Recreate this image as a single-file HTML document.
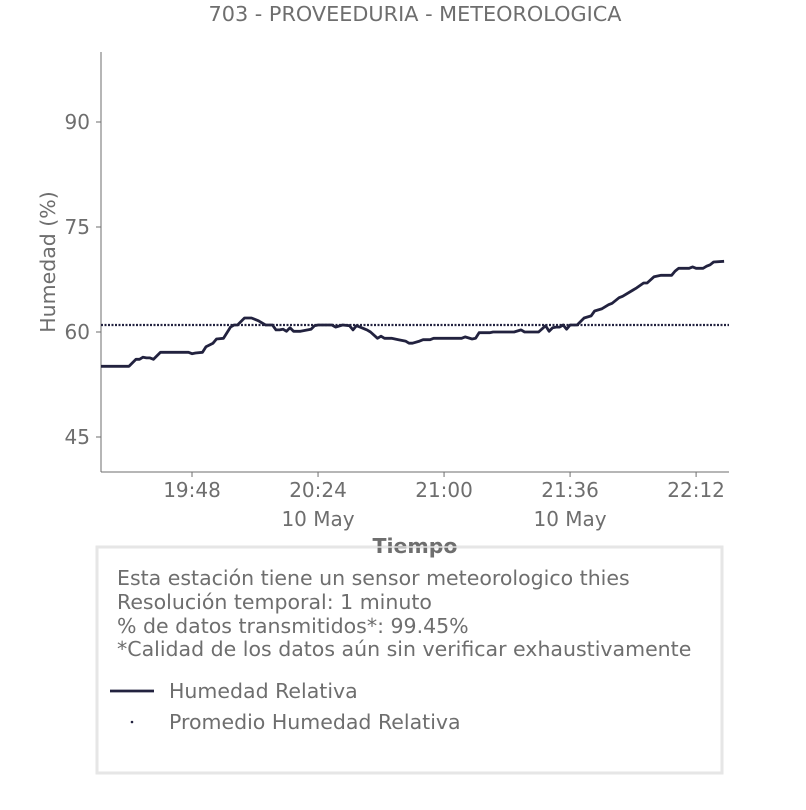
<!DOCTYPE html>
<html><head><meta charset="utf-8"><style>
body{margin:0;background:#fff;font-family:"DejaVu Sans","Liberation Sans",sans-serif;}
svg text{font-family:"DejaVu Sans","Liberation Sans",sans-serif;fill:#6e6e6e;}
</style></head><body>
<svg width="806" height="806" viewBox="0 0 806 806">
<text x="415" y="21" font-size="20.8" text-anchor="middle">703 - PROVEEDURIA - METEOROLOGICA</text>
<g id="axes"></g>
<g id="marks"></g>
<text transform="translate(55,262) rotate(-90)" font-size="20.5" text-anchor="middle">Humedad (%)</text>
<rect x="97" y="547" width="625" height="226" fill="#fff" stroke="#e6e6e6" stroke-width="3"/>
<text x="415" y="553" font-size="20.5" font-weight="bold" text-anchor="middle">Tiempo</text>
<line x1="370" y1="547" x2="460" y2="547" stroke="#e6e6e6" stroke-width="2" opacity="0.7"/>
<g font-size="20.5">
<text x="117" y="585">Esta estación tiene un sensor meteorologico thies</text>
<text x="117" y="609">Resolución temporal: 1 minuto</text>
<text x="117" y="633">% de datos transmitidos*: 99.45%</text>
<text x="117" y="656">*Calidad de los datos aún sin verificar exhaustivamente</text>
</g>
<g>
<line x1="110" y1="691" x2="154" y2="691" stroke="#22223f" stroke-width="2.8"/>
<text x="169" y="698" font-size="20.5">Humedad Relativa</text>
</g>
<g>
<circle cx="132" cy="722" r="1.3" fill="#22223f"/>
<text x="169" y="729" font-size="20.5">Promedio Humedad Relativa</text>
</g>
</svg>
<script>
const minutes=[0,8,10,11,12,13,14,15,17,25,26,27,29,30,32,33,35,37,38,39,41,43,45,47,49,50,51,52,53,54,55,57,60,61,62,66,67,69,71,72,73,74,76,77,79,80,81,83,85,87,88,89,91,92,94,95,103,104,106,107,108,111,112,118,120,121,123,125,127,128,129,130,131,132,133,134,136,138,140,141,143,145,146,148,149,152,153,155,156,158,160,163,164,165,168,169,170,172,173,174,175,178];
const humidity=[55.1,55.1,56.1,56.1,56.4,56.3,56.3,56.1,57.1,57.1,56.9,57.0,57.1,57.9,58.4,59.0,59.1,60.7,61.0,61.0,62.0,62.0,61.6,61.0,61.0,60.3,60.3,60.4,60.1,60.6,60.1,60.1,60.4,60.9,61.0,61.0,60.7,61.0,60.9,60.3,60.9,60.7,60.3,60.0,59.1,59.4,59.1,59.1,58.9,58.7,58.4,58.4,58.7,58.9,58.9,59.1,59.1,59.3,59.0,59.1,59.9,59.9,60.0,60.0,60.3,60.0,60.0,60.0,60.9,60.1,60.6,60.7,60.7,61.0,60.4,61.0,61.0,62.0,62.3,63.0,63.3,63.9,64.1,64.9,65.1,66.0,66.3,67.0,67.0,67.9,68.1,68.1,68.7,69.1,69.1,69.3,69.1,69.1,69.4,69.6,70.0,70.1];
const average=[61.0];
const yTicks=[45,60,75,90];
const xTickMinutes=[26,62,98,134,170];
const xTickLabels=["19:48","20:24","21:00","21:36","22:12"];
const dateLabels=["","10 May","","10 May",""];

const NS="http://www.w3.org/2000/svg";
const L=101,R=729,T=52,B=472;
const xMin=0,xMax=179.4,yMin=40,yMax=100;
const X=m=>L+(m-xMin)/(xMax-xMin)*(R-L);
const Y=v=>B-(v-yMin)/(yMax-yMin)*(B-T);
function mk(tag,attrs,parent){const e=document.createElementNS(NS,tag);for(const k in attrs)e.setAttribute(k,attrs[k]);parent.appendChild(e);return e;}
const axes=document.getElementById('axes'),marks=document.getElementById('marks');
let a=mk('line',{x1:L,y1:T,x2:L,y2:B,stroke:'#6e6e6e','stroke-width':1},axes);


a=mk('line',{x1:L,y1:B,x2:R,y2:B,stroke:'#6e6e6e','stroke-width':1},axes);


yTicks.forEach(v=>{
  const t=mk('line',{x1:L-5,y1:Y(v),x2:L,y2:Y(v),stroke:'#6e6e6e'},axes);
  
  
  const tx=mk('text',{x:L-11,y:Y(v)+7,'font-size':20,'text-anchor':'end'},axes);
  tx.textContent=v;
  
  
});
xTickMinutes.forEach((m,i)=>{
  const t=mk('line',{x1:X(m),y1:B,x2:X(m),y2:B+5,stroke:'#6e6e6e'},axes);
  
  
  const tx=mk('text',{x:X(m),y:B+25,'font-size':20,'text-anchor':'middle'},axes);
  tx.textContent=xTickLabels[i];
  
  
  if(dateLabels[i]){
    const d=mk('text',{x:X(m),y:B+54,'font-size':20,'text-anchor':'middle'},axes);
    d.textContent=dateLabels[i];
    
    
  }
});
const avg=mk('line',{x1:L,y1:Y(average[0]),x2:R,y2:Y(average[0]),stroke:'#22223f','stroke-width':2.2,'stroke-dasharray':'2,1.5'},marks);


const pts=minutes.map((m,i)=>X(m).toFixed(1)+','+Y(humidity[i]).toFixed(1)).join(' ');
const pl=mk('polyline',{points:pts,fill:'none',stroke:'#22223f','stroke-width':2.8,'stroke-linejoin':'round'},marks);


</script>
</body></html>
